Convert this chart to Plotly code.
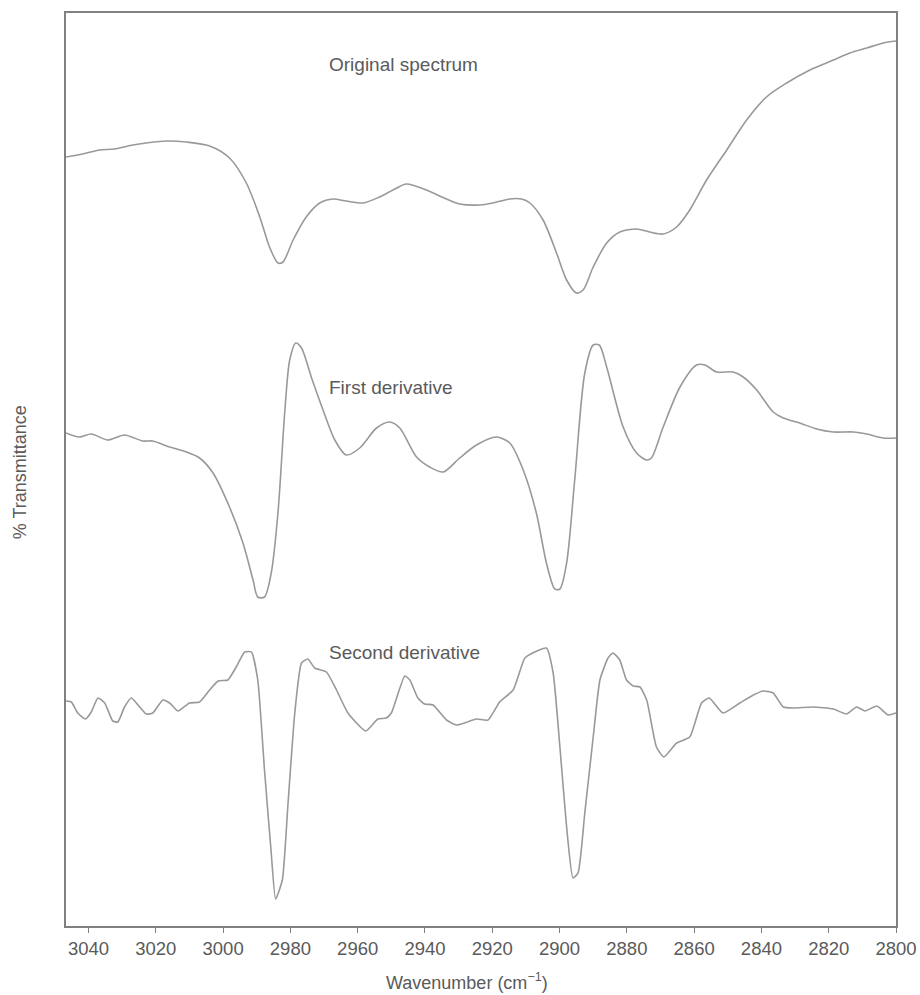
import plotly.graph_objects as go

# Wavenumber (cm^-1) and relative transmittance (arbitrary offset units)
orig_wn = [3046.7, 3041.7, 3036.7, 3032.3, 3026.8, 3022.8, 3016.9, 3010.9, 3004.0, 2998.1,
           2993.1, 2989.1, 2986.2, 2983.7, 2982.2, 2979.2, 2975.3, 2971.3, 2967.3, 2963.4,
           2958.4, 2953.5, 2949.5, 2945.5, 2939.6, 2933.6, 2929.7, 2923.7, 2919.8, 2914.8,
           2911.3, 2908.8, 2904.9, 2900.9, 2897.9, 2895.0, 2893.0, 2890.0, 2886.0, 2882.1,
           2877.1, 2873.2, 2869.2, 2865.2, 2861.3, 2856.3, 2850.3, 2844.4, 2838.5, 2832.5,
           2825.6, 2818.6, 2813.7, 2808.7, 2803.8, 2800.0]
orig_t = [769, 772, 776, 777, 781, 783, 785, 784, 780, 768,
          743, 709, 679, 663, 664, 686, 709, 723, 727, 725,
          723, 729, 736, 742, 736, 727, 722, 721, 723, 727,
          727, 723, 706, 673, 646, 633, 636, 659, 683, 694,
          697, 694, 692, 699, 716, 746, 776, 806, 829, 843,
          856, 866, 873, 878, 883, 885]

first_wn = [3046.7, 3042.7, 3039.2, 3034.3, 3029.3, 3023.9, 3020.9, 3015.9, 3010.9, 3007.0,
            3003.0, 2998.1, 2994.1, 2991.1, 2989.7, 2987.7, 2985.7, 2983.7, 2981.7, 2980.2,
            2978.4, 2976.7, 2973.8, 2970.3, 2966.8, 2963.4, 2959.4, 2954.4, 2950.5, 2947.5,
            2942.5, 2938.6, 2934.6, 2929.7, 2924.7, 2918.8, 2914.8, 2910.8, 2906.9, 2903.9,
            2901.4, 2899.9, 2897.9, 2895.5, 2892.5, 2890.0, 2888.2, 2886.0, 2881.1, 2877.1,
            2874.1, 2872.7, 2869.2, 2864.2, 2859.3, 2856.8, 2853.3, 2848.4, 2845.4, 2841.4,
            2836.5, 2833.5, 2828.6, 2823.6, 2818.6, 2812.7, 2808.7, 2803.8, 2800.0]
first_t = [493, 489, 492, 486, 491, 485, 485, 479, 474, 468,
           453, 419, 383, 346, 329, 329, 353, 413, 513, 566,
           583, 578, 549, 516, 486, 471, 478, 498, 504, 498,
           469, 459, 454, 468, 481, 489, 483, 456, 413, 363,
           337, 337, 363, 446, 553, 581, 581, 559, 499, 473,
           466, 468, 499, 539, 561, 561, 554, 554, 549, 536,
           514, 508, 503, 497, 494, 494, 492, 488, 488]

second_wn = [3046.7, 3045.1, 3043.2, 3040.9, 3039.2, 3037.2, 3035.2, 3032.8, 3031.3, 3029.3,
             3027.3, 3025.3, 3022.8, 3020.9, 3017.9, 3015.9, 3013.4, 3010.0, 3007.0, 3004.0,
             3001.5, 2998.6, 2996.1, 2993.6, 2991.6, 2989.7, 2987.7, 2985.7, 2984.4, 2982.4,
             2980.7, 2978.7, 2976.7, 2974.8, 2972.8, 2969.3, 2966.3, 2962.9, 2957.6, 2954.0,
             2951.5, 2950.0, 2946.0, 2944.5, 2942.1, 2940.1, 2937.6, 2933.6, 2930.6, 2924.7,
             2921.3, 2917.8, 2913.8, 2910.3, 2907.4, 2903.9, 2901.9, 2899.9, 2897.9, 2896.0,
             2894.5, 2892.5, 2890.0, 2888.0, 2885.6, 2884.1, 2882.1, 2880.1, 2878.1, 2876.1,
             2874.1, 2871.2, 2869.0, 2865.2, 2861.3, 2857.8, 2855.5, 2851.4, 2846.4, 2842.4,
             2839.5, 2836.5, 2833.5, 2830.5, 2824.6, 2818.6, 2814.7, 2811.7, 2809.2, 2805.7,
             2802.3, 2800.0]
second_t = [225, 224, 213, 207, 214, 228, 223, 205, 204, 219,
            228, 221, 212, 213, 226, 223, 215, 223, 224, 236,
            245, 246, 259, 274, 274, 246, 156, 73, 27, 46,
            123, 213, 263, 267, 258, 254, 236, 213, 195, 207,
            208, 213, 250, 246, 228, 222, 221, 206, 201, 207,
            206, 224, 236, 268, 274, 278, 253, 179, 99, 48,
            53, 113, 189, 246, 268, 273, 266, 246, 240, 239,
            226, 179, 169, 183, 189, 223, 228, 213, 223, 231,
            235, 233, 219, 218, 219, 217, 212, 219, 215, 220,
            211, 213]

tick_vals = [3040, 3020, 3000, 2980, 2960, 2940, 2920, 2900, 2880, 2860, 2840, 2820, 2800]
curve_labels = ["Original spectrum", "First derivative", "Second derivative"]

LINE = "#999999"
TEXT = "#5a5a5a"
FONT = "Liberation Sans, Arial, sans-serif"

fig = go.Figure()
for wn, t, sm in [(orig_wn, orig_t, 0.8), (first_wn, first_t, 0.8), (second_wn, second_t, 0.5)]:
    fig.add_trace(go.Scatter(x=wn, y=t, mode="lines",
                             line=dict(color=LINE, width=1.6, shape="spline", smoothing=sm),
                             showlegend=False, hoverinfo="skip"))

label_pos = [(0.314, 0.944), (0.314, 0.590), (0.314, 0.300)]
annots = []
for txt, (px, py) in zip(curve_labels, label_pos):
    annots.append(dict(text=txt, x=px, y=py, xref="paper", yref="paper",
                       xanchor="left", yanchor="middle", showarrow=False,
                       font=dict(size=19, color=TEXT, family=FONT)))
annots.append(dict(text="Wavenumber (cm<sup>\u22121</sup>)", x=0.483, y=-0.061,
                   xref="paper", yref="paper", xanchor="center", yanchor="middle",
                   showarrow=False, font=dict(size=18, color=TEXT, family=FONT)))
annots.append(dict(text="% Transmittance", x=-0.0554, y=0.497, xref="paper", yref="paper",
                   xanchor="center", yanchor="middle", textangle=-90, showarrow=False,
                   font=dict(size=18, color=TEXT, family=FONT)))

fig.update_layout(
    template="none",
    width=920, height=995, autosize=False,
    margin=dict(l=66, r=24, t=13, b=69, pad=0),
    paper_bgcolor="white", plot_bgcolor="white",
    annotations=annots,
    xaxis=dict(range=[3046.7, 2800], tickvals=tick_vals, ticks="outside", ticklen=5,
               tickcolor="#808080", tickwidth=1.2, showgrid=False, zeroline=False,
               showline=True, linecolor="#808080", linewidth=1.5, mirror=True,
               automargin=False,
               tickfont=dict(size=18.5, color=TEXT, family=FONT)),
    yaxis=dict(range=[0, 913], showticklabels=False, ticks="", showgrid=False,
               zeroline=False, showline=True, linecolor="#808080", linewidth=1.5,
               mirror=True, automargin=False),
)

fig.write_html("out.html",
               config={"responsive": False, "displayModeBar": False},
               post_script="document.body.style.margin='0';document.body.style.overflow='hidden';")
